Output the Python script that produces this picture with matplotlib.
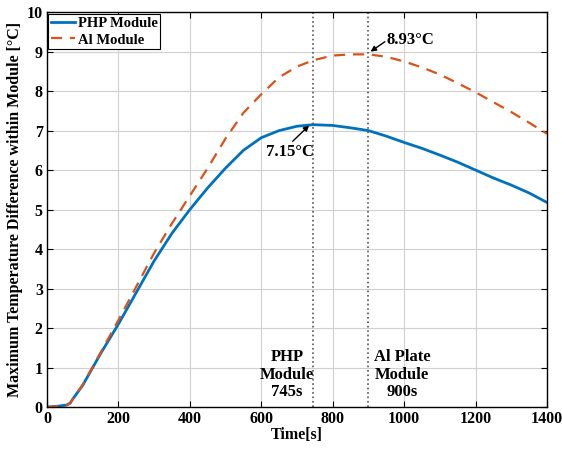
import matplotlib
matplotlib.use('Agg')
import matplotlib.pyplot as plt

# Data
time_s = [0, 30, 55, 65, 72, 100, 125, 150, 200, 250, 300, 350, 400, 450, 500,
          550, 600, 650, 700, 745, 800, 850, 900, 950, 1000, 1050, 1100, 1150,
          1200, 1250, 1300, 1350, 1400]
php_dt = [0.0, 0.02, 0.05, 0.1, 0.2, 0.55, 0.95, 1.35, 2.1, 2.9, 3.7, 4.4, 5.0,
          5.55, 6.05, 6.5, 6.82, 7.0, 7.11, 7.15, 7.13, 7.07, 7.0, 6.86, 6.7,
          6.55, 6.38, 6.2, 6.0, 5.8, 5.62, 5.42, 5.18]
al_dt = [0.0, 0.02, 0.05, 0.1, 0.2, 0.56, 0.97, 1.38, 2.2, 3.05, 3.9, 4.65, 5.35,
         6.05, 6.8, 7.45, 7.92, 8.35, 8.62, 8.78, 8.9, 8.93, 8.93, 8.87, 8.75,
         8.6, 8.42, 8.2, 7.97, 7.72, 7.47, 7.2, 6.92]

php_peak = (745, 7.15)
al_peak = (900, 8.93)

plt.rcParams['font.family'] = ['Liberation Serif', 'DejaVu Serif']
plt.rcParams['font.weight'] = 'bold'

fig = plt.figure(figsize=(5.62, 4.49), dpi=100)
ax = fig.add_axes([0.0836, 0.0935, 0.8897, 0.8795])

ax.plot(time_s, php_dt, color='#0072BD', linewidth=2.0, label='PHP Module')
ax.plot(time_s, al_dt, color='#D95319', linewidth=1.6, linestyle=(0, (5, 3.5)),
        label='Al Module')

ax.axvline(php_peak[0], color='#555555', linestyle=':', linewidth=1.2)
ax.axvline(al_peak[0], color='#555555', linestyle=':', linewidth=1.2)

arrow = dict(arrowstyle='-|>', color='black', lw=1.0, shrinkA=0, shrinkB=0,
             mutation_scale=8)
ax.annotate('', xy=(906, 9.0), xytext=(946, 9.25), arrowprops=arrow)
ax.text(952, 9.29, '8.93°C', fontsize=12, fontweight='bold', va='center')
ax.annotate('', xy=(734, 7.13), xytext=(688, 6.73), arrowprops=arrow)
ax.text(680, 6.46, '7.15°C', fontsize=12, fontweight='bold', ha='center',
        va='center')

ax.text(672, 0.82, 'PHP\nModule\n745s', ha='center', va='center', fontsize=12,
        fontweight='bold', linespacing=1.1)
ax.text(994, 0.82, 'Al Plate\nModule\n900s', ha='center', va='center',
        fontsize=12, fontweight='bold', linespacing=1.1)

ax.set_xlim(0, 1400)
ax.set_ylim(0, 10)
ax.set_xticks(range(0, 1401, 200))
ax.set_yticks(range(0, 11))
ax.tick_params(direction='in', top=True, right=True, labelsize=11.5, length=4,
               pad=3)
for lab in ax.get_xticklabels() + ax.get_yticklabels():
    lab.set_fontweight('bold')
ax.grid(True, color='#d0d0d0', linewidth=0.8)
for s in ax.spines.values():
    s.set_linewidth(1.0)

ax.set_xlabel('Time[s]', fontsize=11.5, fontweight='bold', labelpad=0)
ax.set_ylabel('Maximum Temperature Difference within Module [°C]',
              fontsize=11.5, fontweight='bold', labelpad=3)

leg = ax.legend(loc='upper left', fontsize=10.5, frameon=True, fancybox=False,
                edgecolor='black', framealpha=1, borderpad=0.2,
                labelspacing=0.25, handlelength=1.6, handletextpad=0.2,
                borderaxespad=0.1)
leg.get_frame().set_linewidth(0.8)
for t in leg.get_texts():
    t.set_fontweight('bold')

plt.savefig('out.png', dpi=100)
plt.close()
